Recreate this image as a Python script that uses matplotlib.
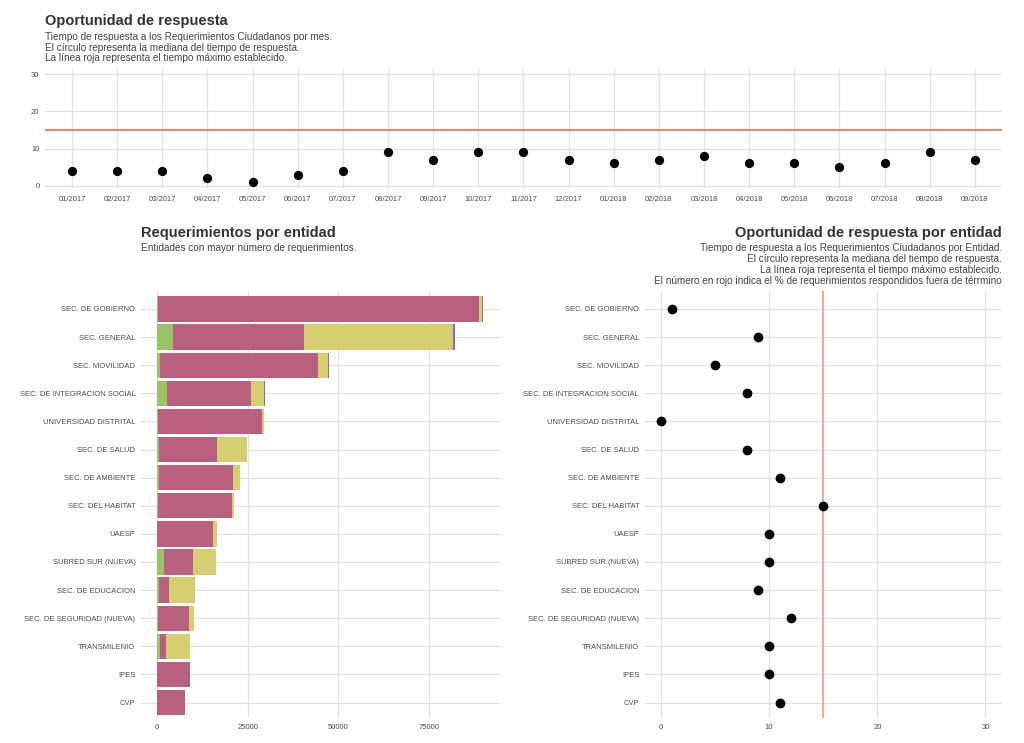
import numpy as np
import matplotlib
matplotlib.use('Agg')
import matplotlib.pyplot as plt

plt.rcParams['font.family'] = ['Liberation Sans', 'DejaVu Sans']

# monthly median response time
meses = ['01/2017', '02/2017', '03/2017', '04/2017', '05/2017', '06/2017', '07/2017',
         '08/2017', '09/2017', '10/2017', '11/2017', '12/2017', '01/2018', '02/2018',
         '03/2018', '04/2018', '05/2018', '06/2018', '07/2018', '08/2018', '09/2018']
mediana_mes = [4, 4, 4, 2, 1, 3, 4, 9, 7, 9, 9, 7, 6, 7, 8, 6, 6, 5, 6, 9, 7]
tiempo_max = 15

# requirements per entity (stacked segments)
entidades = ['SEC. DE GOBIERNO', 'SEC. GENERAL', 'SEC. MOVILIDAD', 'SEC. DE INTEGRACION SOCIAL',
             'UNIVERSIDAD DISTRITAL', 'SEC. DE SALUD', 'SEC. DE AMBIENTE', 'SEC. DEL HABITAT',
             'UAESP', 'SUBRED SUR (NUEVA)', 'SEC. DE EDUCACION', 'SEC. DE SEGURIDAD (NUEVA)',
             'TRANSMILENIO', 'IPES', 'CVP']
seg_verde = [300, 4400, 800, 2700, 150, 500, 650, 200, 100, 1900, 650, 200, 830, 0, 0]
seg_rosa = [88400, 36000, 43650, 23300, 28850, 15900, 20250, 20500, 15400, 7950, 2500, 8650, 1650, 8750, 7650]
seg_amarillo = [900, 41100, 2750, 3400, 450, 8300, 2000, 500, 1100, 6450, 7350, 1200, 6450, 0, 0]
seg_morado = [400, 550, 300, 300, 0, 0, 0, 0, 0, 0, 0, 0, 0, 280, 0]

# median response time per entity
mediana_ent = [1, 9, 5, 8, 0, 8, 11, 15, 10, 10, 9, 12, 10, 10, 11]

colores = ['#9AC266', '#B9607F', '#D6CF71', '#8E6BA5']
grid_c = '#e2e2e2'
tick_c = '#4d4d4d'
titulo_c = '#333333'


def estilo(ax):
    for s in ax.spines.values():
        s.set_visible(False)
    ax.tick_params(length=0, labelsize=5.5, colors=tick_c, pad=4)
    ax.grid(True, color=grid_c, lw=0.9)
    ax.set_axisbelow(True)


fig = plt.figure(figsize=(10.24, 7.43), dpi=100)

# --- top: monthly chart
ax1 = fig.add_axes([0.0439, 0.747, 0.9346, 0.1601])
estilo(ax1)
x = np.arange(len(meses))
ax1.axhline(tiempo_max, color='#EF6F4E', lw=1.2, zorder=2)
ax1.scatter(x, mediana_mes, s=32, color='black', zorder=3)
ax1.set_xticks(x)
ax1.set_xticklabels(meses)
ax1.tick_params(axis='x', pad=6)
ax1.set_xlim(-0.6, len(meses) - 0.4)
ax1.set_ylim(-0.6, 31.4)
ax1.set_yticks([0, 10, 20, 30])

fig.text(45 / 1024, 1 - 14 / 743, 'Oportunidad de respuesta', fontsize=10.5,
         fontweight='bold', color=titulo_c, va='top')
fig.text(45 / 1024, 1 - 32 / 743,
         'Tiempo de respuesta a los Requerimientos Ciudadanos por mes.\n'
         'El círculo representa la mediana del tiempo de respuesta.\n'
         'La línea roja representa el tiempo máximo establecido.',
         fontsize=7.2, color='#444444', va='top', linespacing=1.08)

# --- bottom left: stacked bars
ax2 = fig.add_axes([0.1377, 0.0336, 0.3506, 0.5752])
estilo(ax2)
y = np.arange(len(entidades))
izq = np.zeros(len(entidades))
for seg, c in zip([seg_verde, seg_rosa, seg_amarillo, seg_morado], colores):
    ax2.barh(y, seg, left=izq, height=0.9, color=c, zorder=2)
    izq = izq + np.array(seg)
ax2.set_yticks(y)
ax2.set_yticklabels(entidades)
ax2.set_ylim(len(entidades) - 0.45, -0.65)
ax2.set_xlim(-4450, 94600)
ax2.set_xticks([0, 25000, 50000, 75000])

fig.text(141 / 1024, 1 - 226 / 743, 'Requerimientos por entidad', fontsize=10.5,
         fontweight='bold', color=titulo_c, va='top')
fig.text(141 / 1024, 1 - 243 / 743, 'Entidades con mayor número de requerimientos.',
         fontsize=7.2, color='#444444', va='top')

# --- bottom right: median per entity
ax3 = fig.add_axes([0.6296, 0.0336, 0.3486, 0.5752])
estilo(ax3)
ax3.axvline(tiempo_max, color='#F29A84', lw=1.2, zorder=2)
ax3.scatter(mediana_ent, y, s=36, color='black', zorder=3)
ax3.set_yticks(y)
ax3.set_yticklabels(entidades)
ax3.set_ylim(len(entidades) - 0.45, -0.65)
ax3.set_xlim(-1.5, 31.5)
ax3.set_xticks([0, 10, 20, 30])

fig.text(1002 / 1024, 1 - 226 / 743, 'Oportunidad de respuesta por entidad', fontsize=10.5,
         fontweight='bold', color=titulo_c, va='top', ha='right')
fig.text(1002 / 1024, 1 - 243 / 743,
         'Tiempo de respuesta a los Requerimientos Ciudadanos por Entidad.\n'
         'El círculo representa la mediana del tiempo de respuesta.\n'
         'La línea roja representa el tiempo máximo establecido.\n'
         'El número en rojo indica el % de requerimientos respondidos fuera de térrmino',
         fontsize=7.2, color='#444444', va='top', ha='right', multialignment='right',
         linespacing=1.12)

fig.savefig('out.png', dpi=100, facecolor='white')
